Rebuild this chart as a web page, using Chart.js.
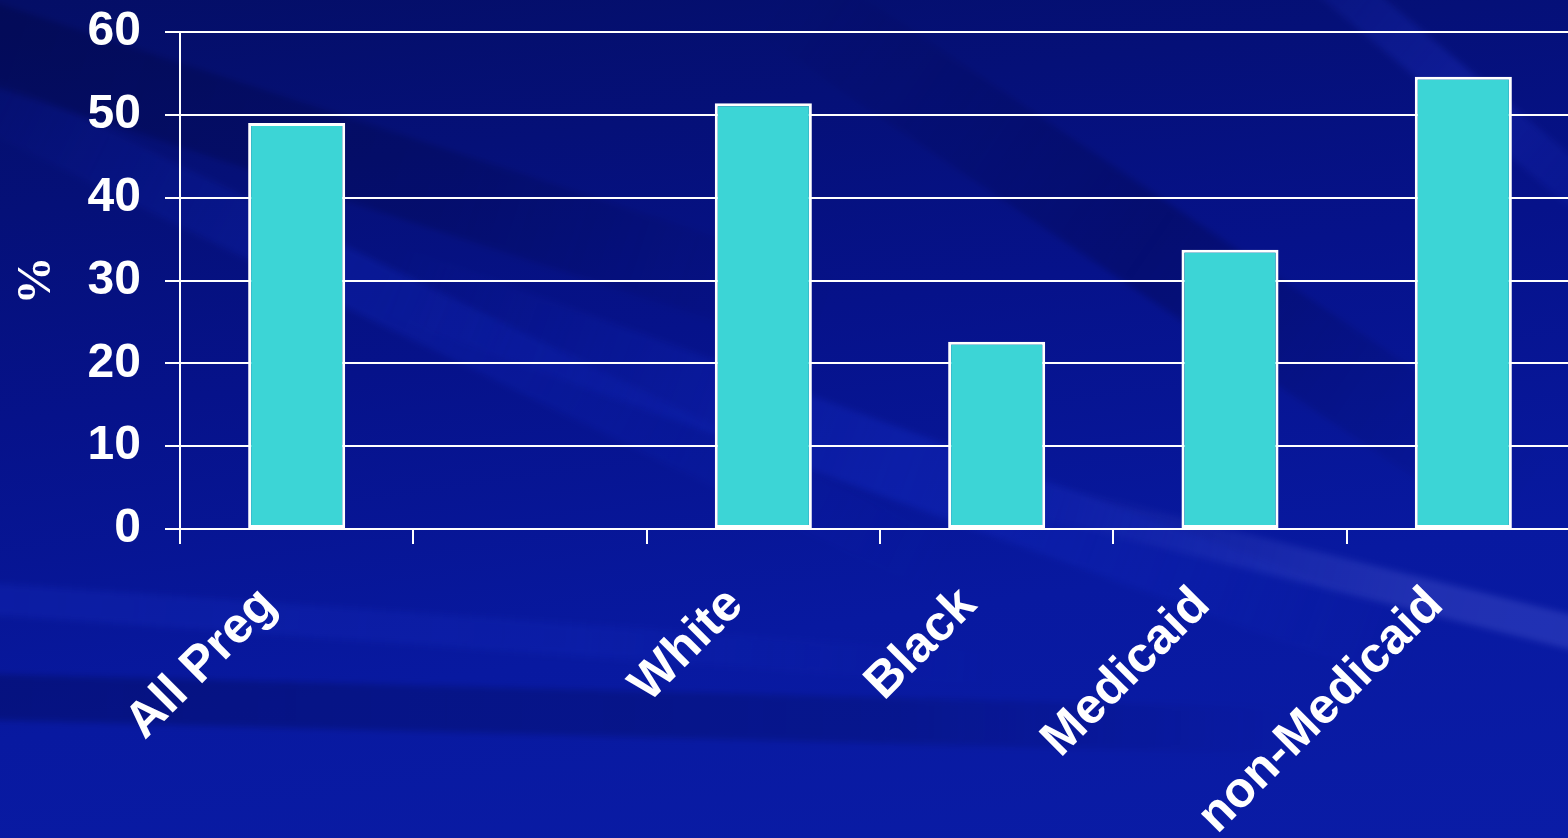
<!DOCTYPE html>
<html>
<head>
<meta charset="utf-8">
<script src="https://cdn.jsdelivr.net/npm/chart.js@4.4.0/dist/chart.umd.min.js"></script>
<style>
  html, body { margin: 0; padding: 0; overflow: hidden; }
  body {
    position: relative;
    width: 1568px; height: 838px;
    background: linear-gradient(172deg, #040e66 0%, #06128a 40%, #0819a0 70%, #0a1ca6 100%);
  }
  .raya { position: absolute; transform-origin: center; filter: blur(3px); }
  #wrap { position: absolute; left: 0; top: 0; width: 1580px; height: 838px; }
</style>
</head>
<body>
<!-- rayas decorativas del fondo -->
<div class="raya" style="left:-100px;top:300px;width:1100px;height:55px;transform:rotate(26deg);background:linear-gradient(90deg,transparent,rgba(20,45,200,0.28) 40%,transparent)"></div>
<div class="raya" style="left:350px;top:430px;width:1100px;height:70px;transform:rotate(20deg);background:linear-gradient(90deg,transparent,rgba(25,50,210,0.3) 50%,transparent)"></div>
<div class="raya" style="left:-150px;top:120px;width:1000px;height:80px;transform:rotate(18deg);background:linear-gradient(90deg,rgba(0,0,40,0.25),rgba(0,0,40,0.18) 60%,transparent)"></div>
<div class="raya" style="left:700px;top:200px;width:900px;height:90px;transform:rotate(34deg);background:linear-gradient(90deg,transparent,rgba(0,0,45,0.25) 50%,transparent)"></div>
<div class="raya" style="left:1150px;top:60px;width:600px;height:40px;transform:rotate(40deg);background:linear-gradient(90deg,transparent,rgba(40,60,220,0.25) 50%,transparent)"></div>
<div class="raya" style="left:1000px;top:560px;width:700px;height:34px;transform:rotate(14deg);background:linear-gradient(90deg,transparent,rgba(140,150,255,0.18) 60%,rgba(140,150,255,0.2))"></div>
<div class="raya" style="left:-100px;top:690px;width:1400px;height:46px;transform:rotate(1.5deg);background:linear-gradient(90deg,rgba(0,5,60,0.3),rgba(0,5,60,0.2) 70%,transparent)"></div>
<div class="raya" style="left:-100px;top:615px;width:1100px;height:32px;transform:rotate(4deg);background:linear-gradient(90deg,rgba(30,55,210,0.22),rgba(30,55,210,0.15) 60%,transparent)"></div>
<div id="wrap"><canvas id="grafico"></canvas></div>
<script>
// categorias y valores (%)
const categorias = ['All Preg', '', 'White', 'Black', 'Medicaid', 'non-Medicaid'];
const valores = [49, null, 51.4, 22.6, 33.7, 54.6];
const ticksY = [0, 10, 20, 30, 40, 50, 60];

const fuente = "'Liberation Sans', Arial, sans-serif";

const ctx = document.getElementById('grafico').getContext('2d');
const chart = new Chart(ctx, {
    type: 'bar',
    data: {
        labels: categorias,
        datasets: [{
            label: '%',
            data: valores,
            backgroundColor: '#3cd5d6',
            borderColor: '#ffffff',
            borderWidth: 3,
            borderSkipped: false,
            categoryPercentage: 1,
            barPercentage: 0.416
        }]
    },
    options: {
        responsive: true,
        maintainAspectRatio: false,
        animation: false,
        layout: { padding: { top: 32, left: 0, right: 0, bottom: 0 } },
        plugins: { legend: { display: false }, tooltip: { enabled: false } },
        scales: {
            x: {
                grid: { drawOnChartArea: false, color: '#ffffff', lineWidth: 2, tickLength: 15 },
                border: { color: '#ffffff', width: 2 },
                ticks: {
                    color: '#ffffff',
                    font: { family: fuente, size: 50, weight: 'bold' },
                    maxRotation: 45, minRotation: 45,
                    autoSkip: false,
                    padding: 32,
                    labelOffset: -28
                },
                afterFit: s => { s.height = 309; }
            },
            y: {
                min: 0, max: 60,
                afterBuildTicks: s => { s.ticks = ticksY.map(v => ({ value: v })); },
                grid: { color: '#ffffff', lineWidth: 2, tickLength: 15 },
                border: { color: '#ffffff', width: 2 },
                ticks: {
                    color: '#ffffff',
                    font: { family: fuente, size: 48, weight: 'bold' },
                    padding: 24
                },
                title: {
                    display: true,
                    text: '%',
                    color: '#ffffff',
                    font: { family: "'Liberation Serif', 'Times New Roman', serif", size: 48, weight: 'bold' },
                    padding: { top: 9, bottom: 0 }
                },
                afterFit: s => { s.width = 180; s.paddingTop = 0; s.paddingBottom = 0; }
            }
        }
    }
});
</script>
</body>
</html>
